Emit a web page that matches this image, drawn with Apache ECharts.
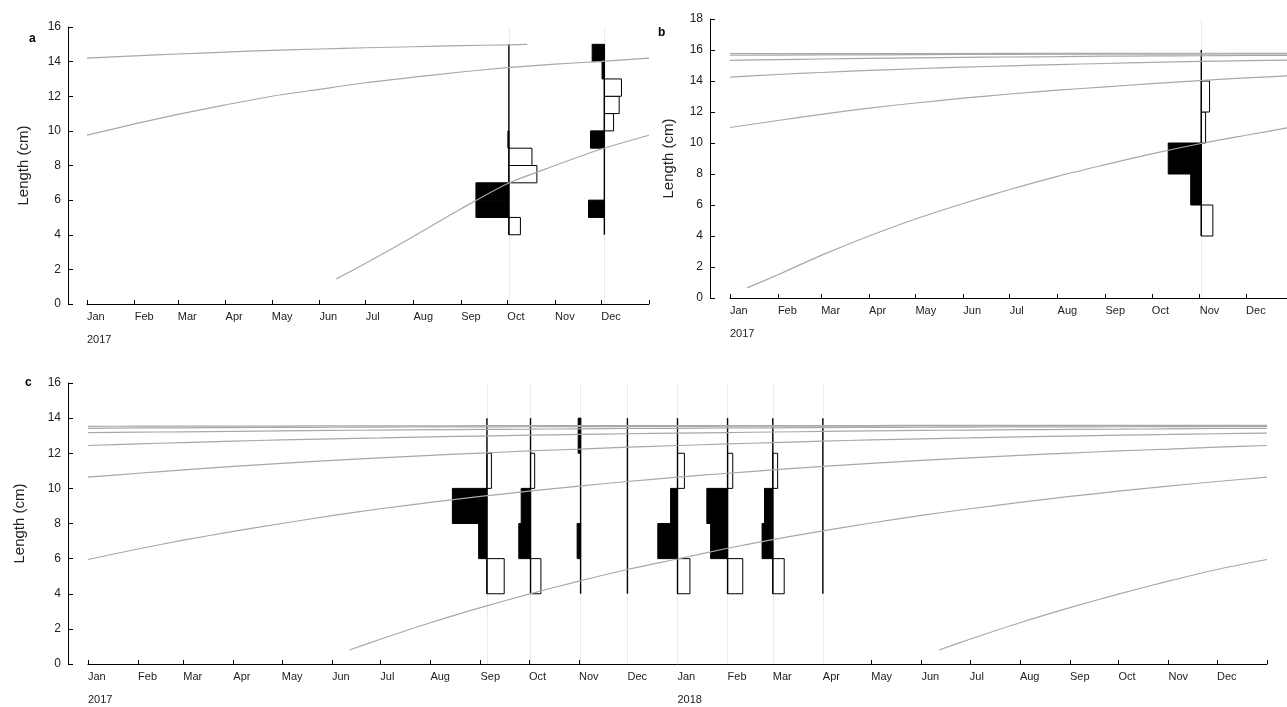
<!DOCTYPE html>
<html><head><meta charset="utf-8">
<script src="https://cdn.jsdelivr.net/npm/echarts@6/dist/echarts.min.js"></script>
<style>html,body{margin:0;padding:0;background:#fff}#chart{width:1287px;height:707px}</style>
</head><body><div id="chart"></div>
<script>
// ================= DATA =================
const monthNames = ['Jan','Feb','Mar','Apr','May','Jun','Jul','Aug','Sep','Oct','Nov','Dec'];
const yearsA = ['2017'];
const yearsB = ['2017'];
const yearsC = ['2017', '2018'];
const panelLetters = ['a', 'b', 'c'];
const yAxisTitle = 'Length (cm)';

// ---- panel a : growth curves [date, length cm] ----
const aCurve1 = [['2017-01-01',14.2],['2017-02-01',14.33],['2017-03-01',14.44],['2017-04-01',14.55],['2017-05-01',14.65],['2017-06-01',14.73],['2017-07-01',14.8],['2017-08-01',14.86],['2017-09-01',14.92],['2017-10-01',14.97],['2017-10-14',15.0]];
const aCurve2 = [['2017-01-01',9.75],['2017-02-01',10.4],['2017-03-01',10.95],['2017-04-01',11.5],['2017-05-01',12.0],['2017-06-01',12.4],['2017-07-01',12.78],['2017-08-01',13.1],['2017-09-01',13.4],['2017-10-01',13.65],['2017-11-01',13.85],['2017-12-01',14.02],['2018-01-01',14.2]];
const aCurve3 = [['2017-06-12',1.45],['2017-07-01',2.35],['2017-08-01',3.9],['2017-09-01',5.5],['2017-10-01',6.95],['2017-11-01',8.0],['2017-12-01',8.95],['2018-01-01',9.75]];
// ---- panel a : restructured length-frequency scores ----
const aSampleDates = ['2017-10-02', '2017-12-03'];
const aBinLows = [4,5,6,7,8,9,10,11,12,13,14];
const aBinWidth = 1;
const aScoresOct = [-0.35, 1.0, 1.0, -0.85, -0.7, 0.03, 0, 0, 0, 0, 0];
const aScoresDec = [0, 0.48, 0, 0, 0, 0.42, -0.28, -0.45, -0.52, 0.07, 0.37];

// ---- panel b : growth curves ----
const bCurve1 = [['2017-01-12',0.65],['2017-02-01',1.5],['2017-03-01',2.75],['2017-04-01',4.0],['2017-05-01',5.1],['2017-06-01',6.1],['2017-07-01',7.0],['2017-08-01',7.85],['2017-09-01',8.6],['2017-10-01',9.3],['2017-11-01',9.95],['2017-12-01',10.5],['2018-01-01',11.05]];
const bCurve2 = [['2017-01-01',11.0],['2017-02-01',11.45],['2017-03-01',11.85],['2017-04-01',12.25],['2017-05-01',12.58],['2017-06-01',12.89],['2017-07-01',13.16],['2017-08-01',13.41],['2017-09-01',13.62],['2017-10-01',13.83],['2017-11-01',14.03],['2017-12-01',14.2],['2018-01-01',14.35]];
const bCurve3 = [['2017-01-01',14.25],['2017-02-01',14.42],['2017-03-01',14.55],['2017-04-01',14.68],['2017-05-01',14.79],['2017-06-01',14.89],['2017-07-01',14.98],['2017-08-01',15.06],['2017-09-01',15.13],['2017-10-01',15.2],['2017-11-01',15.26],['2017-12-01',15.31],['2018-01-01',15.36]];
const bCurve4 = [['2017-01-01',15.33],['2017-02-01',15.38],['2017-03-01',15.42],['2017-04-01',15.46],['2017-05-01',15.49],['2017-06-01',15.52],['2017-07-01',15.55],['2017-08-01',15.57],['2017-09-01',15.6],['2017-10-01',15.62],['2017-11-01',15.63],['2017-12-01',15.65],['2018-01-01',15.66]];
const bCurve5 = [['2017-01-01',15.66],['2017-03-01',15.68],['2017-05-01',15.7],['2017-07-01',15.72],['2017-09-01',15.73],['2017-11-01',15.74],['2018-01-01',15.75]];
const bCurve6 = [['2017-01-01',15.76],['2017-04-01',15.77],['2017-07-01',15.78],['2017-10-01',15.79],['2018-01-01',15.79]];
// ---- panel b : scores ----
const bSampleDates = ['2017-11-02'];
const bBinLows = [4,6,8,10,12,14];
const bBinWidth = 2;
const bScoresNov = [-0.35, 0.32, 1.0, -0.13, -0.25, 0];

// ---- panel c : growth curves ----
const cCurveJun18 = [['2018-06-12',0.8],['2018-07-01',1.41],['2018-08-01',2.35],['2018-09-01',3.21],['2018-10-01',3.98],['2018-11-01',4.72],['2018-12-01',5.38],['2019-01-01',5.95]];
const cCurveJun17 = [['2017-06-12',0.8],['2017-07-01',1.41],['2017-08-01',2.35],['2017-09-01',3.21],['2017-10-01',3.98],['2017-11-01',4.72],['2017-12-01',5.38],['2018-01-01',5.98],['2018-02-01',6.59],['2018-03-01',7.08],['2018-04-01',7.58],['2018-05-01',8.03],['2018-06-01',8.46],['2018-07-01',8.84],['2018-08-01',9.2],['2018-09-01',9.54],['2018-10-01',9.84],['2018-11-01',10.13],['2018-12-01',10.39],['2019-01-01',10.64]];
const cCurveMonths = ['2017-01-01','2017-02-01','2017-03-01','2017-04-01','2017-05-01','2017-06-01','2017-07-01','2017-08-01','2017-09-01','2017-10-01','2017-11-01','2017-12-01','2018-01-01','2018-02-01','2018-03-01','2018-04-01','2018-05-01','2018-06-01','2018-07-01','2018-08-01','2018-09-01','2018-10-01','2018-11-01','2018-12-01','2019-01-01'];
const cCurveJun16 = [5.95,6.55,7.05,7.55,8.0,8.45,8.84,9.2,9.54,9.84,10.13,10.39,10.64,10.86,11.05,11.25,11.42,11.59,11.74,11.88,12.01,12.13,12.24,12.35,12.44];
const cCurveJun15 = [10.64,10.86,11.05,11.25,11.42,11.59,11.74,11.88,12.01,12.13,12.24,12.35,12.44,12.53,12.61,12.69,12.76,12.82,12.87,12.93,12.98,13.03,13.07,13.11,13.15];
const cCurveJun14 = [12.44,12.53,12.61,12.69,12.76,12.82,12.87,12.93,12.98,13.03,13.07,13.11,13.15,13.18,13.21,13.24,13.27,13.3,13.32,13.34,13.36,13.37,13.39,13.41,13.42];
const cCurveJun13 = [13.17,13.2,13.22,13.25,13.27,13.3,13.32,13.34,13.36,13.37,13.39,13.41,13.42,13.44,13.45,13.46,13.47,13.48,13.49,13.5,13.5,13.51,13.52,13.52,13.53];
const cCurveJun12 = [13.42,13.44,13.45,13.46,13.47,13.48,13.49,13.5,13.5,13.51,13.52,13.52,13.53,13.54,13.54,13.55,13.55,13.56,13.56,13.56,13.57,13.57,13.57,13.57,13.57];
const cCurveJun11 = [13.53,13.54,13.54,13.55,13.55,13.56,13.56,13.56,13.57,13.57,13.57,13.57,13.58,13.58,13.58,13.58,13.58,13.59,13.59,13.59,13.59,13.59,13.59,13.59,13.59];
// ---- panel c : scores ----
const cSampleDates = ['2017-09-05','2017-10-02','2017-11-02','2017-12-01','2018-01-01','2018-02-01','2018-03-01','2018-04-01'];
const cBinLows = [4,6,8,10,12];
const cBinWidth = 2;
const cScoresSep = [-0.5, 0.24, 1.0, -0.13, 0];
const cScoresOct = [-0.3, 0.34, 0.27, -0.12, 0];
const cScoresNov = [0, 0.1, 0, 0, 0.07];
const cScoresDec = [0, 0, 0, 0, 0];
const cScoresJan = [-0.36, 0.57, 0.2, -0.2, 0];
const cScoresFeb = [-0.44, 0.49, 0.6, -0.15, 0];
const cScoresMar = [-0.33, 0.31, 0.24, -0.14, 0];
const cScoresApr = [0, 0, 0, 0, 0];

// ================= STYLE / LAYOUT =================
const FONT = "'Liberation Sans', Arial, sans-serif";
const BAR_DAYS_PER_UNIT = 21.4;   // horizontal extent of a score of 1, in days
const CURVE_COLOR = '#a8a8a8';
const GRIDLINE_COLOR = '#ebebeb';

function day(s) {
  const [y, m, d] = s.split('-').map(Number);
  return (Date.UTC(y, m - 1, d) - Date.UTC(2017, 0, 1)) / 864e5;
}
function pad(n) { return (n < 10 ? '0' : '') + n; }

function buildTicks(years) {
  const vals = [], labels = {};
  years.forEach(y => {
    monthNames.forEach((mn, m) => {
      const d = day(y + '-' + pad(m + 1) + '-01');
      vals.push(d);
      labels[d] = m === 0 ? mn + '\n\n' + y : mn;
    });
  });
  const end = day((+years[years.length - 1] + 1) + '-01-01');
  vals.push(end); labels[end] = '';
  return { vals, labels, end };
}

const panels = [
  { years: yearsA, grid: { left: 87, right: 638, top: 27, bottom: 403 }, yMax: 16, yOffset: 19, nameGap: 37,
    curves: [aCurve1, aCurve2, aCurve3],
    samples: aSampleDates, bins: aBinLows, binW: aBinWidth, scores: [aScoresOct, aScoresDec],
    letter: { left: 24, top: 28 } },
  { years: yearsB, grid: { left: 730, right: -7, top: 19, bottom: 409 }, yMax: 18, yOffset: 20, nameGap: 34,
    curves: [bCurve1, bCurve2, bCurve3, bCurve4, bCurve5, bCurve6],
    samples: bSampleDates, bins: bBinLows, binW: bBinWidth, scores: [bScoresNov],
    letter: { left: 653, top: 22 } },
  { years: yearsC, grid: { left: 88, right: 20, top: 383, bottom: 43 }, yMax: 16, yOffset: 20, nameGap: 41,
    curves: [cCurveJun18, cCurveJun17,
      ...[cCurveJun16, cCurveJun15, cCurveJun14, cCurveJun13, cCurveJun12, cCurveJun11].map(arr => arr.map((v, i) => [cCurveMonths[i], v]))],
    samples: cSampleDates, bins: cBinLows, binW: cBinWidth,
    scores: [cScoresSep, cScoresOct, cScoresNov, cScoresDec, cScoresJan, cScoresFeb, cScoresMar, cScoresApr],
    letter: { left: 20, top: 372 } }
];

const option = {
  animation: false,
  backgroundColor: '#fff',
  textStyle: { fontFamily: FONT },
  title: [], grid: [], xAxis: [], yAxis: [], series: []
};

panels.forEach((p, i) => {
  const t = buildTicks(p.years);
  option.title.push({ text: panelLetters[i], left: p.letter.left, top: p.letter.top,
    textStyle: { fontSize: 12, fontWeight: 'bold', color: '#000', fontFamily: FONT } });
  option.grid.push(Object.assign({ outerBoundsMode: 'none', containLabel: false }, p.grid));
  option.xAxis.push({
    type: 'value', gridIndex: i, min: 0, max: t.end,
    axisLine: { show: true, onZero: false, lineStyle: { color: '#000', width: 1 } },
    axisTick: { show: true, inside: true, length: 4, customValues: t.vals, lineStyle: { color: '#000' } },
    axisLabel: { customValues: t.vals, formatter: v => t.labels[v] ?? '', align: 'left', margin: 7,
      fontSize: 11, lineHeight: 11.5, color: '#222', fontFamily: FONT, hideOverlap: false },
    splitLine: { show: false }
  });
  option.yAxis.push({
    type: 'value', gridIndex: i, min: 0, max: p.yMax, interval: 2, offset: p.yOffset,
    axisLine: { show: true, onZero: false, lineStyle: { color: '#000', width: 1 } },
    axisTick: { show: true, inside: true, length: 5, lineStyle: { color: '#000' } },
    axisLabel: { margin: 7, fontSize: 12, color: '#222', fontFamily: FONT },
    splitLine: { show: false },
    name: yAxisTitle, nameLocation: 'middle', nameGap: p.nameGap, nameRotate: 90,
    nameTextStyle: { fontSize: 15, color: '#222', fontFamily: FONT }
  });

  // histogram bars
  const barData = [];
  p.samples.forEach((sd, k) => {
    p.scores[k].forEach((s, b) => barData.push([day(sd), p.bins[b], p.bins[b] + p.binW, s]));
  });
  option.series.push({
    type: 'custom', xAxisIndex: i, yAxisIndex: i, silent: true, z: 2,
    encode: { x: 0, y: [1, 2] },
    data: barData,
    renderItem: (params, api) => {
      const d = api.value(0), lo = api.value(1), hi = api.value(2), s = api.value(3);
      if (!s) return null;
      const p0 = api.coord([d, lo]);
      const p1 = api.coord([d - s * BAR_DAYS_PER_UNIT, hi]);
      return { type: 'rect',
        shape: { x: Math.min(p0[0], p1[0]), y: p1[1], width: Math.abs(p1[0] - p0[0]), height: p0[1] - p1[1] },
        style: { fill: s > 0 ? '#000' : '#fff', stroke: '#000', lineWidth: 1 } };
    },
    markLine: { silent: true, symbol: 'none', z: 1, label: { show: false },
      lineStyle: { color: GRIDLINE_COLOR, type: 'solid', width: 1 },
      data: p.samples.map(sd => ({ xAxis: day(sd) })) }
  });
  // sample vertical lines
  const lineData = p.samples.map(sd => [day(sd), p.bins[0], p.bins[p.bins.length - 1] + p.binW]);
  option.series.push({
    type: 'custom', xAxisIndex: i, yAxisIndex: i, silent: true, z: 3,
    encode: { x: 0, y: [1, 2] },
    data: lineData,
    renderItem: (params, api) => {
      const a = api.coord([api.value(0), api.value(1)]);
      const b = api.coord([api.value(0), api.value(2)]);
      return { type: 'line', shape: { x1: a[0], y1: a[1], x2: b[0], y2: b[1] },
        style: { stroke: '#000', lineWidth: 1.4 } };
    }
  });
  // growth curves
  p.curves.forEach(c => {
    option.series.push({
      type: 'line', xAxisIndex: i, yAxisIndex: i, silent: true, z: 4,
      data: c.map(([d, v]) => [day(d), v]),
      smooth: 0.25, showSymbol: false, symbol: 'none',
      lineStyle: { color: CURVE_COLOR, width: 1.2 }
    });
  });
});

const chart = echarts.init(document.getElementById('chart'), null, { renderer: 'canvas' });
chart.setOption(option);
</script>
</body></html>
